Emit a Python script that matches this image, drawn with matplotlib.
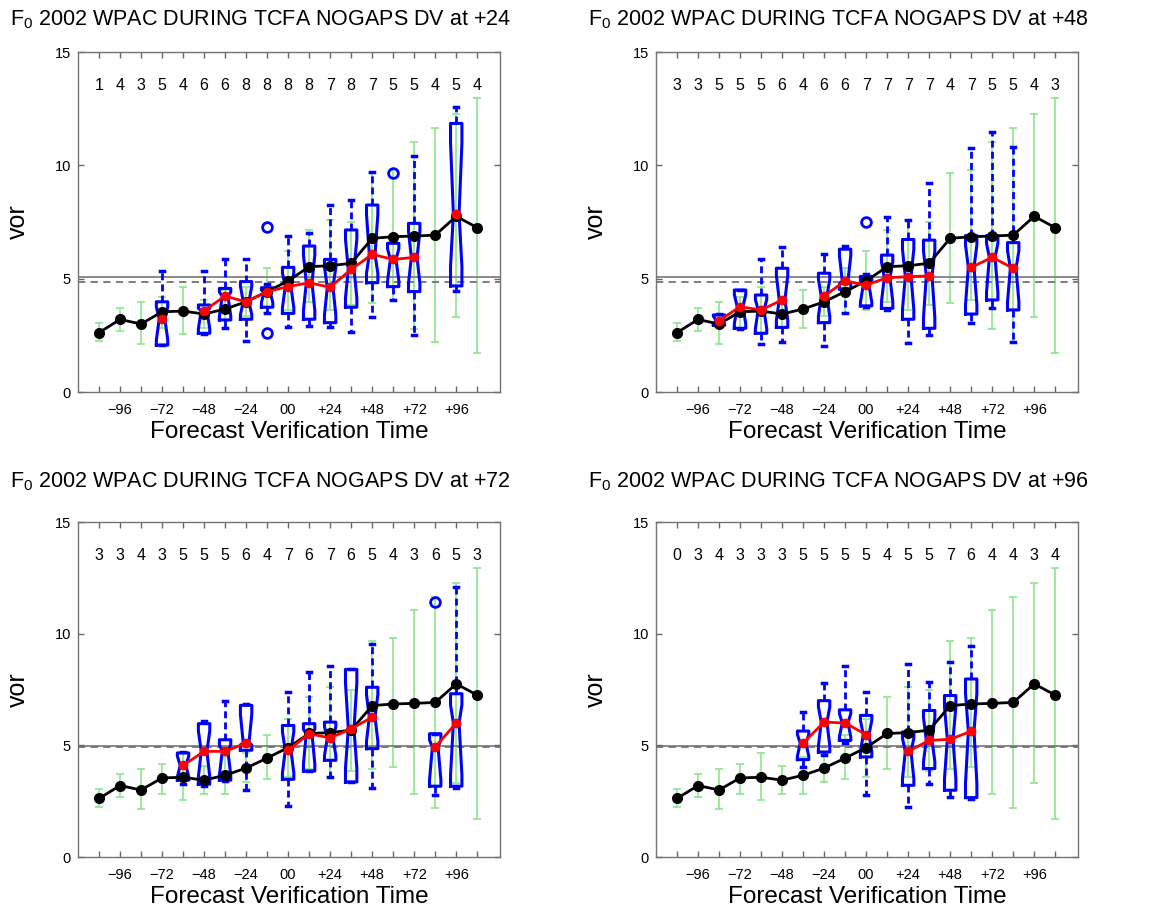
import numpy as np
import matplotlib.pyplot as plt

plt.rcParams['font.family'] = ['Liberation Sans', 'DejaVu Sans']
plt.rcParams['mathtext.fontset'] = 'custom'
plt.rcParams['mathtext.rm'] = 'Liberation Sans'
plt.rcParams['mathtext.it'] = 'Liberation Sans'

# forecast verification times (h)
hours = [-108, -96, -84, -72, -60, -48, -36, -24, -12, 0,
         12, 24, 36, 48, 60, 72, 84, 96, 108]
tick_labels = ['', '\u221296', '', '\u221272', '', '\u221248', '', '\u221224', '', '00',
               '', '+24', '', '+48', '', '+72', '', '+96', '']

# climatology mean and spread (same in every panel)
clim_mean = [2.62, 3.2, 3.0, 3.54, 3.57, 3.44, 3.66, 3.98, 4.43, 4.9,
             5.53, 5.57, 5.68, 6.78, 6.85, 6.88, 6.92, 7.75, 7.25]
clim_low = [2.25, 2.7, 2.13, 2.84, 2.55, 2.84, 2.82, 3.35, 3.5, 3.6,
            3.95, 3.6, 3.85, 3.92, 4.05, 2.8, 2.2, 3.3, 1.7]
clim_high = [3.05, 3.7, 3.95, 4.18, 4.65, 4.06, 4.5, 4.65, 5.45, 6.2,
             7.15, 7.6, 7.5, 9.65, 9.8, 11.05, 11.65, 12.25, 12.95]

# +24 panel
n24 = [1, 4, 3, 5, 4, 6, 6, 8, 8, 8, 8, 7, 8, 7, 5, 5, 4, 5, 4]
bx24 = [-72, -48, -36, -24, -12, 0, 12, 24, 36, 48, 60, 72, 96]
q1_24 = [2.07, 2.59, 3.18, 3.21, 3.74, 3.47, 3.21, 3.06, 3.74, 4.82, 4.65, 4.43, 4.68]
med24 = [3.22, 3.59, 4.23, 3.98, 4.43, 4.65, 4.82, 4.62, 5.41, 6.07, 5.85, 5.94, 7.85]
q3_24 = [3.98, 3.84, 4.57, 4.87, 4.6, 5.5, 6.44, 5.85, 7.15, 8.25, 6.56, 7.44, 11.85]
wlo24 = [2.07, 2.55, 2.81, 2.26, 3.5, 2.85, 2.91, 2.85, 2.66, 3.29, 4.06, 2.51, 4.47]
whi24 = [5.35, 5.35, 5.85, 5.85, 4.75, 6.88, 7.0, 8.25, 8.47, 9.7, 6.9, 10.4, 12.58]
out24 = {-12: [7.3, 2.62], 60: [9.65]}

# +48 panel
n48 = [3, 3, 5, 5, 5, 6, 4, 6, 6, 7, 7, 7, 7, 4, 7, 5, 5, 4, 3]
bx48 = [-84, -72, -60, -48, -24, -12, 0, 12, 24, 36, 60, 72, 84]
q1_48 = [2.95, 2.81, 2.59, 2.85, 3.06, 4.55, 3.8, 3.69, 3.21, 2.81, 3.44, 4.06, 3.62]
med48 = [3.15, 3.76, 3.62, 4.06, 4.23, 4.9, 4.72, 5.04, 5.09, 5.12, 5.5, 5.94, 5.46]
q3_48 = [3.4, 4.5, 4.28, 5.46, 5.24, 6.3, 5.1, 6.04, 6.73, 6.7, 6.9, 6.9, 6.59]
wlo48 = [2.9, 2.8, 2.12, 2.22, 2.03, 3.5, 3.75, 3.6, 2.15, 2.51, 3.06, 3.69, 2.22]
whi48 = [3.45, 4.5, 5.85, 6.38, 6.09, 6.45, 5.2, 7.7, 7.6, 9.2, 10.76, 11.45, 10.8]
out48 = {0: [7.5]}

# +72 panel
n72 = [3, 3, 4, 3, 5, 5, 5, 6, 4, 7, 6, 7, 6, 5, 4, 3, 6, 5, 3]
bx72 = [-60, -48, -36, -24, 0, 12, 24, 36, 48, 84, 96]
q1_72 = [3.44, 3.26, 3.44, 4.78, 3.48, 3.85, 4.33, 3.36, 4.85, 3.17, 3.17]
med72 = [4.1, 4.73, 4.73, 5.1, 4.78, 5.52, 5.33, 5.74, 6.26, 4.93, 6.0]
q3_72 = [4.66, 5.97, 5.25, 6.79, 5.89, 5.97, 6.04, 8.4, 7.6, 5.52, 7.31]
wlo72 = [3.29, 3.2, 3.4, 2.99, 2.28, 3.85, 3.59, 3.36, 3.07, 2.77, 3.1]
whi72 = [4.7, 6.1, 7.0, 6.86, 7.38, 8.27, 8.57, 8.4, 9.54, 5.52, 12.1]
out72 = {84: [11.4]}

# +96 panel
n96 = [0, 3, 4, 3, 3, 3, 5, 5, 5, 5, 4, 5, 5, 7, 6, 4, 4, 3, 4]
bx96 = [-36, -24, -12, 0, 24, 36, 48, 60]
q1_96 = [4.36, 4.7, 5.22, 4.48, 3.21, 3.96, 2.99, 2.66]
med96 = [5.1, 6.04, 6.0, 5.48, 4.73, 5.22, 5.27, 5.63]
q3_96 = [5.64, 7.0, 6.59, 6.34, 5.6, 6.56, 7.23, 7.97]
wlo96 = [4.03, 4.55, 5.1, 2.77, 2.25, 3.29, 2.69, 2.6]
whi96 = [6.49, 7.78, 8.57, 7.38, 8.65, 7.83, 8.72, 9.46]
out96 = {}

# reference lines (solid, dashed)
ref_solid = {24: 5.06, 48: 5.06, 72: 4.98, 96: 4.98}
ref_dash = {24: 4.86, 48: 4.86, 72: 4.92, 96: 4.92}

W, H = 1149, 913
fig = plt.figure(figsize=(W / 100, H / 100), dpi=100)


def px_axes(left, top, right, bottom):
    return fig.add_axes([left / W, 1 - bottom / H, (right - left) / W, (bottom - top) / H])


def draw_panel(ax, lead, counts, bx, q1, med, q3, wlo, whi, outl):
    green = (0.55, 0.9, 0.55)
    mean = np.array(clim_mean)
    yerr = [mean - np.array(clim_low), np.array(clim_high) - mean]
    ax.errorbar(hours, mean, yerr=yerr, fmt='none', ecolor=green, elinewidth=1.2,
                capsize=3, capthick=1.2, zorder=1)
    ax.axhline(ref_solid[lead], color='0.5', lw=1.3, zorder=1)
    ax.axhline(ref_dash[lead], color='0.45', lw=1.3, ls=(0, (4, 3)), zorder=1)

    stats = []
    for i, x in enumerate(bx):
        n = counts[hours.index(x)]
        iqr = q3[i] - q1[i]
        half = 1.57 * iqr / np.sqrt(n)
        # keep the notch inside the box so it reads as an hourglass
        lo = max(med[i] - half, q1[i] + 0.12 * iqr)
        hi = min(med[i] + half, q3[i] - 0.12 * iqr)
        stats.append(dict(med=med[i], q1=q1[i], q3=q3[i], whislo=wlo[i], whishi=whi[i],
                          cilo=min(lo, med[i]), cihi=max(hi, med[i]),
                          fliers=outl.get(x, [])))
    ax.bxp(stats, positions=bx, widths=6.5, shownotches=True, showfliers=True,
           capwidths=2.5, manage_ticks=False,
           boxprops=dict(color='blue', lw=2.2),
           whiskerprops=dict(color='blue', lw=2, ls=(0, (2.5, 1.5))),
           capprops=dict(color='blue', lw=2.5),
           medianprops=dict(color='red', lw=1.5),
           flierprops=dict(marker='o', mfc='none', mec='blue', ms=7, mew=2))

    ax.plot(hours, clim_mean, '-o', color='black', lw=2, ms=7, zorder=5)

    red = [np.nan] * len(hours)
    for x, m in zip(bx, med):
        red[hours.index(x)] = m
    ax.plot(hours, red, '-o', color='red', lw=2, ms=6, zorder=6)

    for x, c in zip(hours, counts):
        ax.text(x, 13.5, str(c), ha='center', va='center', fontsize=11.5)

    ax.set_xlim(-120, 121)
    ax.set_ylim(0, 15)
    ax.set_xticks(hours)
    ax.set_xticklabels(tick_labels)
    ax.set_yticks([0, 5, 10, 15])
    ax.tick_params(direction='in', top=True, right=True, length=4, width=1,
                   color='0.4', labelsize=10.5)
    ax.tick_params(axis='x', pad=8)
    ax.tick_params(axis='y', pad=5)
    for s in ax.spines.values():
        s.set_color('0.45')
        s.set_linewidth(1)
    ax.set_xlabel('Forecast Verification Time', fontsize=17.5, labelpad=3)
    ax.set_ylabel('vor', fontsize=18)
    ax.yaxis.set_label_coords(-0.115, 0.5)


panels = [
    ((78, 52, 500, 392), 24, n24, bx24, q1_24, med24, q3_24, wlo24, whi24, out24, (10, 20)),
    ((656, 52, 1078, 392), 48, n48, bx48, q1_48, med48, q3_48, wlo48, whi48, out48, (588, 20)),
    ((78, 522, 500, 857), 72, n72, bx72, q1_72, med72, q3_72, wlo72, whi72, out72, (10, 482)),
    ((656, 522, 1078, 857), 96, n96, bx96, q1_96, med96, q3_96, wlo96, whi96, out96, (588, 482)),
]

for box, lead, counts, bx, q1, med, q3, wlo, whi, outl, tpos in panels:
    ax = px_axes(*box)
    draw_panel(ax, lead, counts, bx, q1, med, q3, wlo, whi, outl)
    fig.text(tpos[0] / W, 1 - tpos[1] / H,
             r'$\mathrm{F_0}$ 2002 WPAC DURING TCFA NOGAPS DV at +%d' % lead,
             fontsize=15.5, ha='left', va='center')

fig.savefig('out.png', dpi=100)
